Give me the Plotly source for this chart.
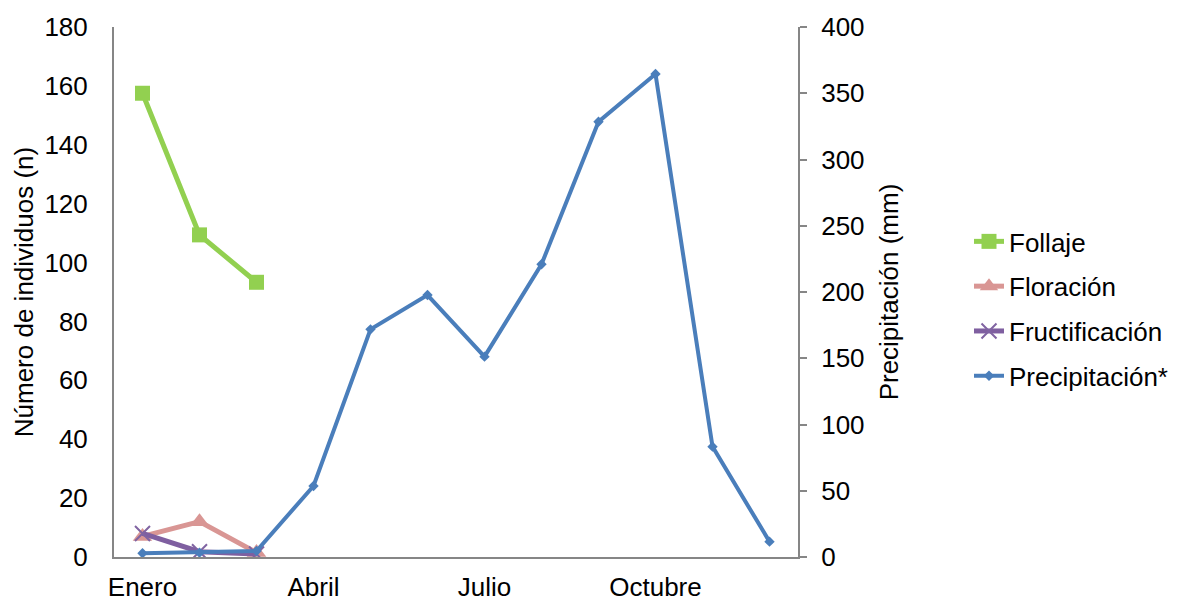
import plotly.graph_objects as go

months = ["Enero", "Febrero", "Marzo", "Abril", "Mayo", "Junio", "Julio",
          "Agosto", "Septiembre", "Octubre", "Noviembre", "Diciembre"]
tick_months = ["Enero", "Abril", "Julio", "Octubre"]

follaje = [157.5, 109.4, 93.3]
floracion = [7, 12, 1.5]
fructificacion = [8, 1.8, 1]
precipitacion = [2.8, 3.3, 4.5, 53.6, 171.8, 197.7, 151.2, 220.9, 328.5, 364.5, 83.3, 11.6]

FONT = "Liberation Sans, Arial, sans-serif"
AXIS_COLOR = "#868686"
TICK_SIZE = 26
TITLE_SIZE = 26

fig = go.Figure()
fig.add_trace(go.Scatter(
    x=months[:3], y=follaje, name="Follaje", mode="lines+markers",
    legendgroup="a",
    line=dict(color="#92D050", width=5),
    marker=dict(symbol="square", size=15, color="#92D050")))
fig.add_trace(go.Scatter(
    x=months[:3], y=floracion, name="Floración", mode="lines+markers",
    legendgroup="b",
    line=dict(color="#D99694", width=5),
    marker=dict(symbol="triangle-up", size=17, color="#D99694")))
fig.add_trace(go.Scatter(
    x=months[:3], y=fructificacion, name="Fructificación", mode="lines+markers",
    legendgroup="c",
    line=dict(color="#7F5FA0", width=5),
    marker=dict(symbol="x-thin", size=15, color="#8064A2",
                line=dict(color="#8064A2", width=2))))
fig.add_trace(go.Scatter(
    x=months, y=precipitacion, name="Precipitación*", mode="lines+markers",
    legendgroup="d",
    line=dict(color="#4A7EBB", width=4),
    marker=dict(symbol="diamond", size=8, color="#4A7EBB"),
    yaxis="y2"))

fig.update_layout(
    width=1177, height=601,
    margin=dict(l=106, r=387, t=19, b=52, autoexpand=False),
    paper_bgcolor="white", plot_bgcolor="white",
    font=dict(family=FONT, size=TICK_SIZE, color="#000000"),
    showlegend=True,
    legend=dict(x=1.25, y=0.468, xanchor="left", yanchor="middle",
                font=dict(family=FONT, size=TICK_SIZE, color="#000000"),
                tracegroupgap=8, itemwidth=30),
    xaxis=dict(
        type="category", categoryorder="array", categoryarray=months,
        tickmode="array", tickvals=tick_months, ticktext=tick_months,
        showline=True, linecolor=AXIS_COLOR, linewidth=2, automargin=False,
        showgrid=False, zeroline=False, ticks="", ticklabelstandoff=6,
        tickfont=dict(family=FONT, size=TICK_SIZE), range=[-0.5, 11.5]),
    yaxis=dict(
        range=[0, 180], dtick=20, tick0=0, automargin=False,
        showline=True, linecolor=AXIS_COLOR, linewidth=2,
        showgrid=False, zeroline=False, ticks="",
        ticklabelstandoff=19,
        tickfont=dict(family=FONT, size=TICK_SIZE),
        title=dict(text="Número de individuos (n)", standoff=3,
                   font=dict(family=FONT, size=TITLE_SIZE))),
    yaxis2=dict(
        overlaying="y", side="right", range=[0, 400], dtick=50, tick0=0,
        automargin=False,
        showline=True, linecolor=AXIS_COLOR, linewidth=2,
        showgrid=False, zeroline=False, ticks="outside", ticklen=7,
        tickcolor=AXIS_COLOR, tickwidth=1.5, ticklabelstandoff=9,
        tickfont=dict(family=FONT, size=TICK_SIZE),
        title=dict(text="Precipitación (mm)", standoff=16,
                   font=dict(family=FONT, size=TITLE_SIZE))),
)

fig.write_html("out.html")
